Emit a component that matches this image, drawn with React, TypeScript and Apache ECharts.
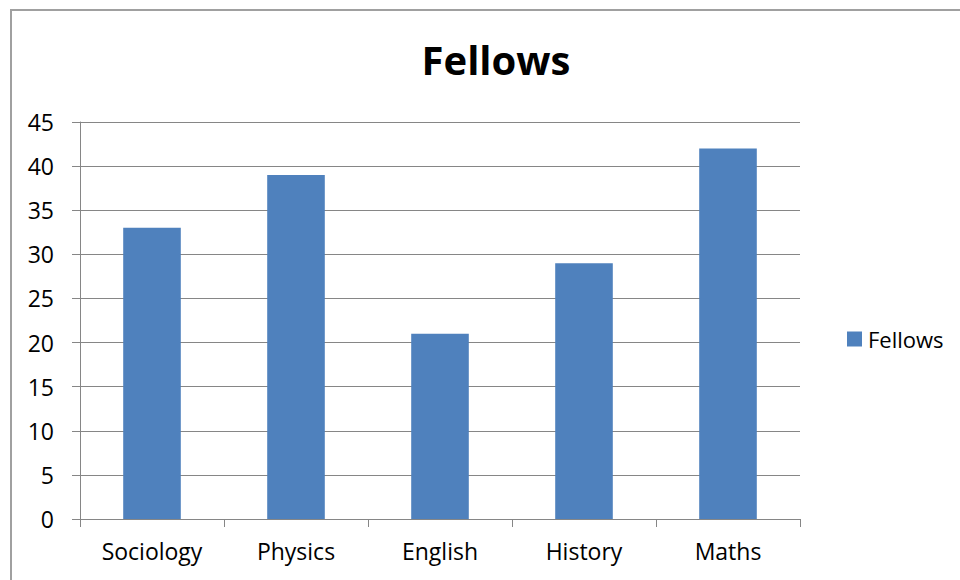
import React, { useEffect, useRef } from "react";
import * as echarts from "echarts";

const categories = ["Sociology", "Physics", "English", "History", "Maths"];
const fellows = [33, 39, 21, 29, 42];
const seriesName = "Fellows";
const titleText = "Fellows";

export default function App() {
  const ref = useRef<HTMLDivElement>(null);

  useEffect(() => {
    if (!ref.current) return;
    const chart = echarts.init(ref.current, null, { renderer: "svg" });
    const font = "'Open Sans', 'Noto Sans', sans-serif";
    chart.setOption({
      animation: false,
      backgroundColor: "#ffffff",
      title: {
        text: titleText,
        left: 491,
        textAlign: "center",
        top: 34,
        textStyle: { fontFamily: font, fontSize: 40, fontWeight: "bold", color: "#000" },
      },
      legend: {
        data: [seriesName],
        left: 842,
        top: 323,
        orient: "vertical",
        icon: "rect",
        itemWidth: 15,
        itemHeight: 15,
        itemGap: 8,
        textStyle: { fontFamily: font, fontSize: 22, color: "#000", padding: [0, 0, 0, 1] },
      },
      graphic: [
        {
          type: "rect",
          shape: { x: 11, y: 10, width: 1000, height: 620 },
          style: { fill: "none", stroke: "#a0a0a0", lineWidth: 2 },
          silent: true,
        },
      ],
      grid: { left: 80, right: 160, top: 122, bottom: 61 },
      xAxis: {
        type: "category",
        data: categories,
        boundaryGap: true,
        axisLine: { lineStyle: { color: "#868686", width: 1 } },
        axisTick: { show: true, length: 8, lineStyle: { color: "#868686" } },
        axisLabel: { fontFamily: font, fontSize: 23, color: "#000", margin: 20 },
      },
      yAxis: {
        type: "value",
        min: 0,
        max: 45,
        interval: 5,
        axisLine: { show: true, lineStyle: { color: "#868686", width: 1 } },
        axisTick: { show: true, length: 8, lineStyle: { color: "#868686" } },
        axisLabel: { fontFamily: font, fontSize: 23, color: "#000", margin: 26 },
        splitLine: { lineStyle: { color: "#868686", width: 1 } },
      },
      series: [
        {
          name: seriesName,
          type: "bar",
          data: fellows,
          barWidth: "40%",
          itemStyle: { color: "#4F81BD" },
        },
      ],
    });
    return () => chart.dispose();
  }, []);

  return (
    <div
      ref={ref}
      style={{ position: "fixed", left: 0, top: 0, width: 960, height: 580 }}
    />
  );
}
